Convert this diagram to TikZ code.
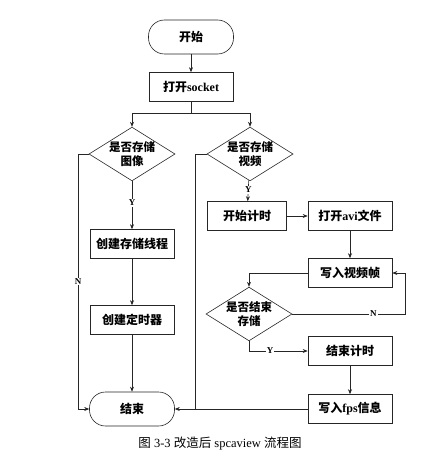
\documentclass[tikz,border=0pt]{standalone}
\usepackage{fontspec}
\setmainfont{Liberation Serif}
\newfontfamily\cjk{Noto Sans CJK SC}
\usetikzlibrary{arrows.meta, shapes.geometric}
\tikzset{
  flow/.style={
    line width=0.6pt,
    draw=black!85
  },
  flow arrow/.style={
    flow,
    -{Stealth[length=5pt, width=4pt]}
  },
  terminal box/.style={
    draw=black!85,
    line width=0.6pt,
    rectangle,
    rounded corners=16pt,
    minimum width=85pt,
    minimum height=34pt,
    font=\cjk\bfseries\fontsize{12}{14}\selectfont
  },
  process box/.style={
    draw=black!85,
    line width=0.6pt,
    rectangle,
    minimum width=84pt,
    minimum height=29pt,
    inner sep=1pt,
    font=\cjk\bfseries\fontsize{12}{14}\selectfont
  },
  decision box/.style={
    draw=black!85,
    line width=0.6pt,
    diamond,
    aspect=1.6,
    minimum width=82pt,
    minimum height=52pt,
    inner sep=0pt,
    align=center,
    font=\cjk\bfseries\fontsize{11.5}{14}\selectfont
  },
  branch label/.style={
    fill=white,
    inner sep=1pt,
    font=\bfseries\fontsize{9}{10}\selectfont
  }
}

\begin{document}
\begin{tikzpicture}[x=1pt, y=-1pt]
    % 画布：与原图像素一致
    \useasboundingbox (0,0) rectangle (420,476);

    % 主干
    \node[terminal box] (start) at (191,37) {开始};
    \node[process box] (socket) at (191,87) {打开\textbf{\rmfamily socket}};
    \coordinate (split) at (191,113);

    % 左支：存储图像
    \node[decision box] (dimg) at (132,154) {是否存储\\图像};
    \node[process box] (thread) at (132,244) {创建存储线程};
    \node[process box] (timer) at (132,320) {创建定时器};
    \node[terminal box] (end) at (132,409) {结束};
    \coordinate (nleft) at (78,154);

    % 右支：存储视频
    \node[decision box] (dvid) at (250,154) {是否存储\\视频};
    \node[process box, minimum width=79pt] (tstart) at (247,216) {开始计时};
    \node[process box] (avi) at (350,216) {打开\textbf{\rmfamily avi}文件};
    \node[process box] (frame) at (350,273) {写入视频帧};
    \node[decision box] (dend) at (249,314) {是否结束\\存储};
    \node[process box] (tstop) at (350,351) {结束计时};
    \node[process box] (fps) at (350,409) {写入\textbf{\rmfamily fps}信息};
    \coordinate (vleft) at (195,154);
    \coordinate (nright) at (405,314);

    % 连线
    \draw[flow arrow] (start) -- (socket);
    \draw[flow] (socket) -- (split);
    \draw[flow arrow] (split) -| (dimg.north);
    \draw[flow arrow] (split) -| (dvid.north);

    \draw[flow arrow] (dimg) -- node[branch label, pos=0.45] {Y} (thread);
    \draw[flow arrow] (thread) -- (timer);
    \draw[flow arrow] (timer) -- (end);
    \draw[flow arrow] (dimg.west) -- (nleft) |- node[branch label, pos=0.25] {N} (end.west);

    \draw[flow arrow] (dvid) -- node[branch label, pos=0.45] {Y} (tstart);
    \draw[flow arrow] (tstart) -- (avi);
    \draw[flow arrow] (avi) -- (frame);
    \draw[flow arrow] (frame.west) -| (dend.north);
    \draw[flow arrow] (dend.east) -- node[branch label, pos=0.72] {N} (nright) |- (frame.east);
    \draw[flow arrow] (dend.south) |- node[branch label, pos=0.68] {Y} (tstop.west);
    \draw[flow arrow] (tstop) -- (fps);
    \draw[flow arrow] (fps) -- (end);
    \draw[flow] (dvid.west) -- (vleft) -- (vleft |- end.east);

    % 图题
    \node[font=\fontsize{12.5}{14}\selectfont] (caption) at (220,444)
      {{\cjk 图} 3-3 {\cjk 改造后} spcaview {\cjk 流程图}};

\end{tikzpicture}
\end{document}
